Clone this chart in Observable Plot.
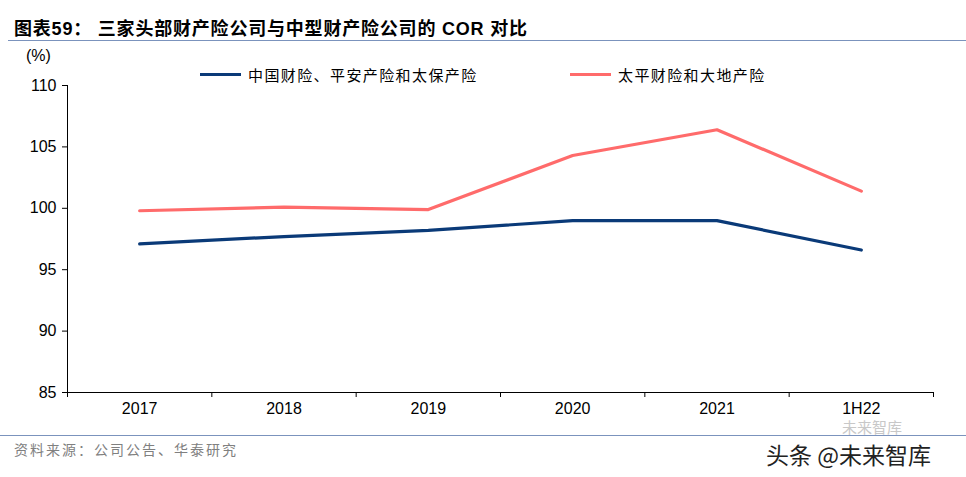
<!DOCTYPE html>
<html><head><meta charset="utf-8">
<script src="https://cdn.jsdelivr.net/npm/d3@7"></script>
<script src="https://cdn.jsdelivr.net/npm/@observablehq/plot@0.6"></script>
<style>
body{margin:0;background:#fff;font-family:"Liberation Sans",Arial,sans-serif;}
#wrap{position:relative;width:966px;height:477px;overflow:hidden;}
.abs{position:absolute;white-space:nowrap;}
</style></head><body>
<div id="wrap">
  <div class="abs" id="title" style="left:14px;top:14px;font-size:18px;font-weight:bold;font-family:'Liberation Sans','Noto Sans CJK SC',sans-serif;color:#000;letter-spacing:0.8px"></div>
  <div class="abs" style="left:8px;top:40px;width:958px;height:1px;background:#7b93bd"></div>
  <div class="abs" style="left:26px;top:47px;font-size:16px;color:#000">(%)</div>
  <div id="legend"></div>
  <div id="chart" class="abs" style="left:0;top:45px"></div>
  <div class="abs" style="left:0;top:435px;width:966px;height:1px;background:#7b93bd"></div>
  <div class="abs" id="source" style="left:14px;top:439px;font-size:14px;color:#808080;font-family:'Noto Sans CJK SC',sans-serif;letter-spacing:2px"></div>
  <div class="abs" style="left:842px;top:418px;font-size:15px;line-height:17px;color:#c8c8c8;font-family:'Noto Sans CJK SC',sans-serif">未来智库</div>
  <div class="abs" style="left:766px;top:441px;font-size:23px;line-height:26px;color:#222;font-family:'Noto Sans CJK SC',sans-serif">头条 @未来智库</div>
</div>
<script>
const titleText = "图表59：  三家头部财产险公司与中型财产险公司的 COR 对比";
const sourceText = "资料来源：公司公告、华泰研究";
const categories = ["2017","2018","2019","2020","2021","1H22"];
const seriesNames = ["中国财险、平安产险和太保产险","太平财险和大地产险"];
const seriesColors = ["#0a3a78","#ff6b6b"];
const bigThree = [97.1, 97.7, 98.2, 99.0, 99.0, 96.6];
const midSize = [99.8, 100.1, 99.9, 104.3, 106.4, 101.4];
const yTicks = [85, 90, 95, 100, 105, 110];

document.getElementById("title").textContent = titleText;
document.getElementById("source").textContent = sourceText;

const data = [];
[bigThree, midSize].forEach((vals, s) => vals.forEach((v, i) => data.push({series: seriesNames[s], i: i + 0.5, v})));

// legend
const legendPos = [200, 570];
const lg = document.getElementById("legend");
seriesNames.forEach((n, s) => {
  const d = document.createElement("div");
  d.className = "abs";
  d.style.cssText = `left:${legendPos[s]}px;top:64px;font-size:15px;font-family:'Noto Sans CJK SC',sans-serif;color:#000;display:flex;align-items:center;letter-spacing:1.4px`;
  d.innerHTML = `<span style="display:inline-block;width:41px;height:3px;background:${seriesColors[s]};margin-right:7px"></span>${n}`;
  lg.appendChild(d);
});

const chart = Plot.plot({
  width: 966,
  height: 380,
  marginLeft: 67,
  marginRight: 33,
  marginTop: 40,
  marginBottom: 33,
  style: {fontFamily: "'Liberation Sans', Arial, sans-serif", fontSize: "16px", color: "#000", background: "transparent"},
  x: {type: "linear", domain: [0, categories.length]},
  y: {domain: [85, 110]},
  color: {domain: seriesNames, range: seriesColors},
  marks: [
    Plot.axisY({ticks: yTicks, tickSize: 5, tickPadding: 6, label: null, fontSize: 16}),
    Plot.axisX({ticks: d3.range(0, categories.length + 1), tickSize: 5, tickFormat: () => "", label: null}),
    Plot.axisX({ticks: d3.range(0.5, categories.length), tickSize: 0, tickPadding: 10, tickFormat: d => categories[Math.floor(d)], label: null, fontSize: 16}),
    Plot.ruleX([0], {stroke: "#000"}),
    Plot.ruleY([85], {stroke: "#000"}),
    Plot.line(data, {x: "i", y: "v", z: "series", stroke: "series", strokeWidth: 3.2, strokeLinejoin: "miter"})
  ]
});
document.getElementById("chart").appendChild(chart);
</script>
</body></html>
